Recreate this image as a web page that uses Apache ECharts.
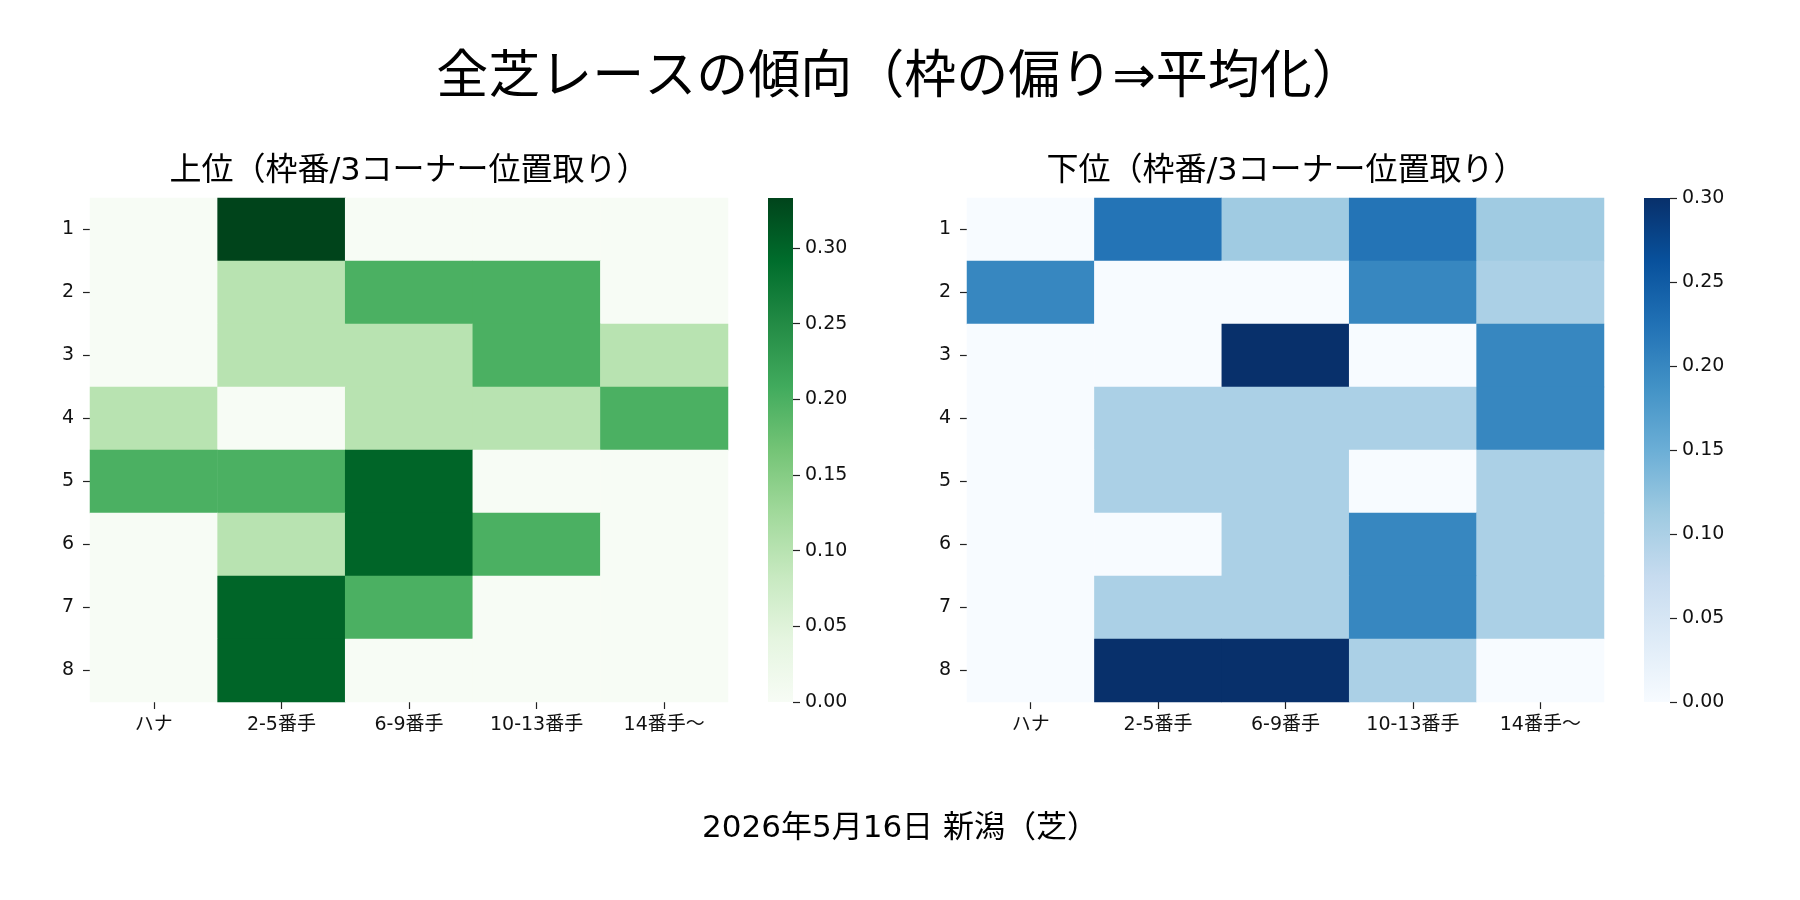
<!DOCTYPE html>
<html>
<head>
<meta charset="utf-8">
<script src="https://cdn.jsdelivr.net/npm/echarts@6/dist/echarts.min.js"></script>
<style>
  html, body { margin: 0; padding: 0; background: #fff; }
  #chart { width: 1800px; height: 900px; }
</style>
</head>
<body>
<div id="chart"></div>
<script>
// 行: 枠番 / 列: 3コーナー位置取り
const rows = ["1", "2", "3", "4", "5", "6", "7", "8"];
const cols = ["ハナ", "2-5番手", "6-9番手", "10-13番手", "14番手〜"];

// 上位
const upper = [
  [0, 0.333, 0, 0, 0],
  [0, 0.1, 0.2, 0.2, 0],
  [0, 0.1, 0.1, 0.2, 0.1],
  [0.1, 0, 0.1, 0.1, 0.2],
  [0.2, 0.2, 0.3, 0, 0],
  [0, 0.1, 0.3, 0.2, 0],
  [0, 0.3, 0.2, 0, 0],
  [0, 0.3, 0, 0, 0]
];
// 下位
const lower = [
  [0, 0.222, 0.111, 0.222, 0.111],
  [0.2, 0, 0, 0.2, 0.1],
  [0, 0, 0.3, 0, 0.2],
  [0, 0.1, 0.1, 0.1, 0.2],
  [0, 0.1, 0.1, 0, 0.1],
  [0, 0, 0.1, 0.2, 0.1],
  [0, 0.1, 0.1, 0.2, 0.1],
  [0, 0.3, 0.3, 0.1, 0]
];

const upperMax = 0.333;
const lowerMax = 0.3;
const cbarTicks = [0, 0.05, 0.1, 0.15, 0.2, 0.25, 0.3];

const greens = ["#f7fcf5", "#e5f5e0", "#c7e9c0", "#a1d99b", "#74c476", "#41ab5d", "#238b45", "#006d2c", "#00441b"];
const blues = ["#f7fbff", "#deebf7", "#c6dbef", "#9ecae1", "#6baed6", "#4292c6", "#2171b5", "#08519c", "#08306b"];

const FONT = "'DejaVu Sans', 'Noto Sans CJK JP'";

//[x, y, value] に変換
function toCells(mat) {
  const out = [];
  mat.forEach((row, r) => {
    row.forEach((v, c) => out.push([c, r, v]));
  });
  return out;
}

// カラーバー（下から上へのグラデーション）
function cbarRender(colors) {
  const stops = colors.map((c, i) => ({ offset: i / (colors.length - 1), color: c }));
  return function (params, api) {
    const p0 = api.coord([0, api.value(0)]);
    const p1 = api.coord([1, api.value(1)]);
    return {
      type: "rect",
      shape: { x: p0[0], y: p1[1], width: p1[0] - p0[0], height: p0[1] - p1[1] },
      style: { fill: new echarts.graphic.LinearGradient(0, 1, 0, 0, stops) }
    };
  };
}

const tickStyle = { color: "#222", width: 1.2 };
const labelStyle = { fontFamily: FONT, fontSize: 19, color: "#111" };

const heatX = (gridIndex) => ({
  type: "category",
  gridIndex,
  data: cols,
  axisLine: { show: false },
  axisTick: { show: true, alignWithLabel: true, length: 7, lineStyle: tickStyle },
  axisLabel: Object.assign({ margin: 14 }, labelStyle),
  splitArea: { show: false },
  splitLine: { show: false }
});
const heatY = (gridIndex) => ({
  type: "category",
  gridIndex,
  data: rows,
  inverse: true,
  axisLine: { show: false },
  axisTick: { show: true, alignWithLabel: true, length: 7, lineStyle: tickStyle },
  axisLabel: Object.assign({ margin: 16, padding: [3, 0, 0, 0] }, labelStyle),
  splitArea: { show: false },
  splitLine: { show: false }
});
const cbarX = (gridIndex) => ({ type: "value", gridIndex, min: 0, max: 1, show: false });
const cbarY = (gridIndex, max) => ({
  type: "value",
  gridIndex,
  position: "right",
  min: 0,
  max: max,
  axisLine: { show: false, onZero: false },
  splitLine: { show: false },
  axisTick: { show: true, length: 7, customValues: cbarTicks, lineStyle: tickStyle },
  axisLabel: Object.assign({
    margin: 12,
    padding: [3, 0, 0, 0],
    customValues: cbarTicks,
    formatter: (v) => v.toFixed(2)
  }, labelStyle)
});

const titleStyle = (size) => ({ fontFamily: FONT, fontSize: size, fontWeight: "normal", color: "#000" });

const option = {
  backgroundColor: "#fff",
  animation: false,
  title: [
    { text: "全芝レースの傾向（枠の偏り⇒平均化）", left: "center", top: 53, padding: 0, textStyle: titleStyle(52) },
    { text: "上位（枠番/3コーナー位置取り）", left: 409, textAlign: "center", top: 156, padding: 0, textStyle: titleStyle(32) },
    { text: "下位（枠番/3コーナー位置取り）", left: 1286, textAlign: "center", top: 156, padding: 0, textStyle: titleStyle(32) },
    { text: "2026年5月16日 新潟（芝）", left: "center", top: 813, padding: 0, textStyle: titleStyle(31) }
  ],
  grid: [
    { left: 90, top: 198, width: 638, height: 504 },
    { left: 967, top: 198, width: 637, height: 504 },
    { left: 768, top: 198, width: 25, height: 504 },
    { left: 1644, top: 198, width: 26, height: 504 }
  ],
  xAxis: [heatX(0), heatX(1), cbarX(2), cbarX(3)],
  yAxis: [heatY(0), heatY(1), cbarY(2, upperMax), cbarY(3, lowerMax)],
  visualMap: [
    { type: "continuous", show: false, seriesIndex: 0, min: 0, max: upperMax, inRange: { color: greens } },
    { type: "continuous", show: false, seriesIndex: 1, min: 0, max: lowerMax, inRange: { color: blues } }
  ],
  series: [
    {
      name: "上位", type: "heatmap", xAxisIndex: 0, yAxisIndex: 0,
      data: toCells(upper), emphasis: { disabled: true }, itemStyle: { borderWidth: 0 }
    },
    {
      name: "下位", type: "heatmap", xAxisIndex: 1, yAxisIndex: 1,
      data: toCells(lower), emphasis: { disabled: true }, itemStyle: { borderWidth: 0 }
    },
    {
      type: "custom", xAxisIndex: 2, yAxisIndex: 2, silent: true,
      renderItem: cbarRender(greens), data: [[0, upperMax]]
    },
    {
      type: "custom", xAxisIndex: 3, yAxisIndex: 3, silent: true,
      renderItem: cbarRender(blues), data: [[0, lowerMax]]
    }
  ]
};

const myChart = echarts.init(document.getElementById("chart"));
myChart.setOption(option);
</script>
</body>
</html>
